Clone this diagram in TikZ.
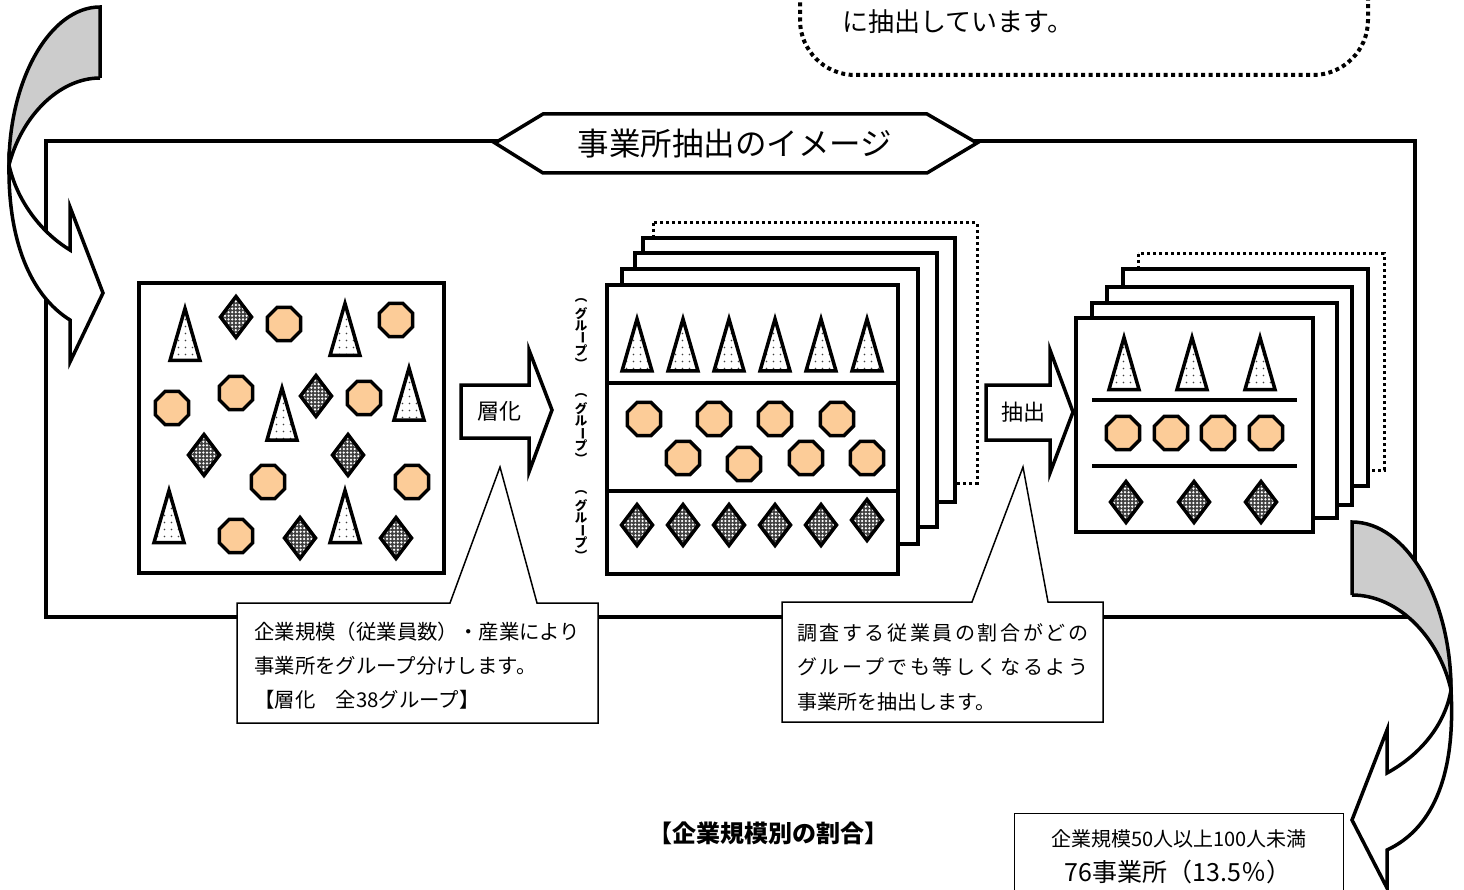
\documentclass[tikz,border=0pt]{standalone}
\usepackage{fontspec}
\newfontfamily\jp{Noto Sans CJK JP}
\usetikzlibrary{shapes.geometric,patterns}
\definecolor{peach}{RGB}{252,204,152}
\definecolor{arrowgray}{RGB}{204,204,204}
\newcommand\jpsize[2]{\fontsize{#1pt}{#2pt}\selectfont}
\pgfdeclarepatternformonly{sdots}{\pgfqpoint{-1pt}{-1pt}}{\pgfqpoint{8pt}{8pt}}{\pgfqpoint{7pt}{7pt}}{\pgfpathcircle{\pgfqpoint{3.5pt}{3.5pt}}{0.8pt}\pgfusepath{fill}}
\pgfdeclarepatternformonly{cdots}{\pgfqpoint{-1pt}{-1pt}}{\pgfqpoint{4pt}{4pt}}{\pgfqpoint{3.6pt}{3.6pt}}{\pgfpathcircle{\pgfqpoint{1.8pt}{1.8pt}}{1.25pt}\pgfusepath{fill}}
\begin{document}
\begin{tikzpicture}[x=1pt,y=-1pt,
  thickline/.style={line width=3.5pt, line join=miter},
  sheet/.style={thickline, draw=black, fill=white},
  dotsheet/.style={line width=3pt, draw=black, dash pattern=on 3pt off 3pt, fill=white},
  oct/.style={regular polygon, regular polygon sides=8, minimum size=36pt, inner sep=0pt, draw=black, line width=3.5pt, fill=peach},
  tri/.pic={\draw[line width=3.5pt, line join=miter, preaction={fill=white}, pattern=sdots, pattern color=black!75] (0,-24) -- (15,28) -- (-15,28) -- cycle;},
  dia/.pic={\draw[line width=3.5pt, line join=miter, preaction={fill=black!75}, pattern=cdots, pattern color=white] (0,-20.5) -- (15.5,0) -- (0,20.5) -- (-15.5,0) -- cycle;},
  gch/.style={inner sep=0pt, font=\jp\bfseries\jpsize{12.5}{12.5}},
  grouplabel/.pic={
    \node[gch] (-a) at (0,-31.25) {︵};
    \node[gch] (-b) at (0,-18.75) {グ};
    \node[gch] (-c) at (0,-6.25) {ル};
    \node[gch, rotate=-90] (-d) at (0,6.25) {ー};
    \node[gch] (-e) at (0,18.75) {プ};
    \node[gch] (-f) at (0,31.25) {︶};
  },
  blockarrow/.style={line width=3.5pt, line join=miter, draw=black, fill=white},
  callout/.style={line width=1.5pt, draw=black, fill=white, line join=miter},
  ctext/.style={anchor=west, inner sep=0pt, font=\jp\jpsize{20.4}{24}},
  curvearrow/.style={line width=3.5pt, line join=miter, draw=black}
]
\useasboundingbox (0,0) rectangle (1464,890);
\clip (0,0) rectangle (1464,890);
\fill[white] (0,0) rectangle (1464,890);

% ---- main frame and title
\draw[thickline] (46,141) rectangle (1415,617);
\draw[thickline, fill=white] (495,143) -- (543,114) -- (927,114) -- (977,143) -- (927,173) -- (543,173) -- cycle;
\node[inner sep=0pt, font=\jp\jpsize{31.5}{34}] (title) at (735,144) {事業所抽出のイメージ};

% ---- left box (population)
\draw[sheet] (139,283) rectangle (444,573);
\foreach \x/\y [count=\i] in {185/332.5, 345/327.5, 282/412, 409/392, 169/514.5, 345/514.5}
  \pic (lt\i) at (\x,\y) {tri};
\foreach \x/\y [count=\i] in {236/317, 316/396, 204/455, 348/455, 300/538, 396/538}
  \pic (ld\i) at (\x,\y) {dia};
\foreach \x/\y [count=\i] in {284/324, 396/320, 172/408, 236/393, 364/398, 268/482, 412/482, 236/536}
  \node[oct] (lo\i) at (\x,\y) {};

% ---- arrow 層化
\draw[blockarrow] (461,385) -- (529,385) -- (529,350) -- (552,410) -- (529,472) -- (529,438) -- (461,438) -- cycle;
\node[inner sep=0pt, font=\jp\jpsize{22}{24}] (soka) at (499,411) {層化};

% ---- middle stack
\draw[dotsheet] (653,223) rectangle (977,483);
\draw[sheet] (643,238) rectangle (955,502);
\draw[sheet] (635,253) rectangle (937,527);
\draw[sheet] (622,269) rectangle (918,544);
\draw[sheet] (607,285) rectangle (898,574);
\draw[line width=3.5pt] (607,383) -- (898,383);
\draw[line width=3.5pt] (607,491) -- (898,491);
\foreach \x [count=\i] in {637,683,729,775,821,867}
  \pic (mt\i) at (\x,343) {tri};
\foreach \x/\y [count=\i] in {644/419, 714/419, 775/419, 837/419, 683/458, 744/464, 806/458, 867/458}
  \node[oct] (mo\i) at (\x,\y) {};
\foreach \x/\y [count=\i] in {637/525, 683/525, 729/525, 775/525, 821/525, 867/520}
  \pic (md\i) at (\x,\y) {dia};

% group labels
\pic (g1) at (581,332) {grouplabel};
\pic (g2) at (581,427) {grouplabel};
\pic (g3) at (581,524) {grouplabel};

% ---- arrow 抽出
\draw[blockarrow] (986,385) -- (1050,385) -- (1050,350) -- (1073,412) -- (1050,473) -- (1050,440) -- (986,440) -- cycle;
\node[inner sep=0pt, font=\jp\jpsize{22}{24}] (chushutsu) at (1023,412) {抽出};

% ---- right stack
\draw[dotsheet] (1138,254) rectangle (1384,470);
\draw[sheet] (1123,269) rectangle (1368,486);
\draw[sheet] (1107,287) rectangle (1352,505);
\draw[sheet] (1092,303) rectangle (1337,518);
\draw[sheet] (1076,318) rectangle (1313,532);
\draw[line width=3.5pt] (1092,400) -- (1297,400);
\draw[line width=3.5pt] (1092,466) -- (1297,466);
\foreach \x [count=\i] in {1124,1192,1260}
  \pic (rt\i) at (\x,361.5) {tri};
\foreach \x [count=\i] in {1123,1171,1218,1266}
  \node[oct] (ro\i) at (\x,433) {};
\foreach \x [count=\i] in {1126,1194,1261}
  \pic (rd\i) at (\x,502) {dia};

% ---- callouts
\coordinate (tip1) at (500,467);
\draw[callout] (237,603) -- (450,603) -- (tip1) -- (537,603) -- (598,603) -- (598,723) -- (237,723) -- cycle;
\node[ctext] (c1a) at (254,632) {企業規模（従業員数）・産業により};
\node[ctext] (c1b) at (254,666) {事業所をグループ分けします。};
\node[ctext] (c1c) at (254,700) {【層化　全38グループ】};

\coordinate (tip2) at (1023,467);
\draw[callout] (782,602) -- (972,602) -- (tip2) -- (1048,602) -- (1103,602) -- (1103,722) -- (782,722) -- cycle;
\node[ctext, font=\jp\jpsize{20}{24}] (c2a) at (797,633) {\makebox[291pt][s]{調\hfil 査\hfil す\hfil る\hfil 従\hfil 業\hfil 員\hfil の\hfil 割\hfil 合\hfil が\hfil ど\hfil の}};
\node[ctext, font=\jp\jpsize{20}{24}] (c2b) at (797,667) {\makebox[291pt][s]{グ\hfil ル\hfil ー\hfil プ\hfil で\hfil も\hfil 等\hfil し\hfil く\hfil な\hfil る\hfil よ\hfil う}};
\node[ctext, font=\jp\jpsize{20}{24}] (c2c) at (797,702) {事業所を抽出します。};

% ---- curved arrow top-left
\fill[arrowgray] (100,7) .. controls (50,7) and (9,80) .. (9,165) .. controls (22,115) and (60,78) .. (100,78) -- cycle;
\draw[curvearrow] (100,78) -- (100,7) .. controls (50,7) and (9,80) .. (9,165);
\draw[curvearrow] (100,78) .. controls (60,78) and (22,115) .. (9,165);
\draw[curvearrow, fill=white] (9,165) .. controls (8,240) and (30,295) .. (70,320) -- (70,362) -- (103,293) -- (70,207) -- (70,250) .. controls (45,235) and (18,205) .. (9,165) -- cycle;

% ---- curved arrow bottom-right
\fill[arrowgray] (1352,522) .. controls (1406,522) and (1451,598) .. (1451,690) .. controls (1440,640) and (1400,595) .. (1352,595) -- cycle;
\draw[curvearrow] (1352,595) -- (1352,522) .. controls (1406,522) and (1451,598) .. (1451,690);
\draw[curvearrow] (1352,595) .. controls (1400,595) and (1440,640) .. (1451,690);
\draw[curvearrow, fill=white] (1451,690) .. controls (1456,780) and (1430,830) .. (1387,850) -- (1387,888) -- (1352,820) -- (1387,730) -- (1387,773) .. controls (1420,755) and (1445,725) .. (1451,690) -- cycle;

% ---- top dotted note
\draw[line width=4pt, dash pattern=on 4pt off 3.5pt, rounded corners=55pt] (800,-120) rectangle (1368,75);
\node[inner sep=0pt, font=\jp\jpsize{26}{28}] (note) at (958,22) {に抽出しています。};

% ---- bottom
\node[inner sep=0pt, font=\jp\bfseries\jpsize{24}{26}] (heading) at (768,833) {【企業規模別の割合】};
\draw[line width=1pt] (1014,813) rectangle (1343,905);
\node[inner sep=0pt, font=\jp\jpsize{20}{22}] (size1) at (1179,839) {企業規模50人以上100人未満};
\node[inner sep=0pt, font=\jp\jpsize{25}{27}] (size2) at (1178,872) {76事業所（13.5％）};
\end{tikzpicture}
\end{document}
